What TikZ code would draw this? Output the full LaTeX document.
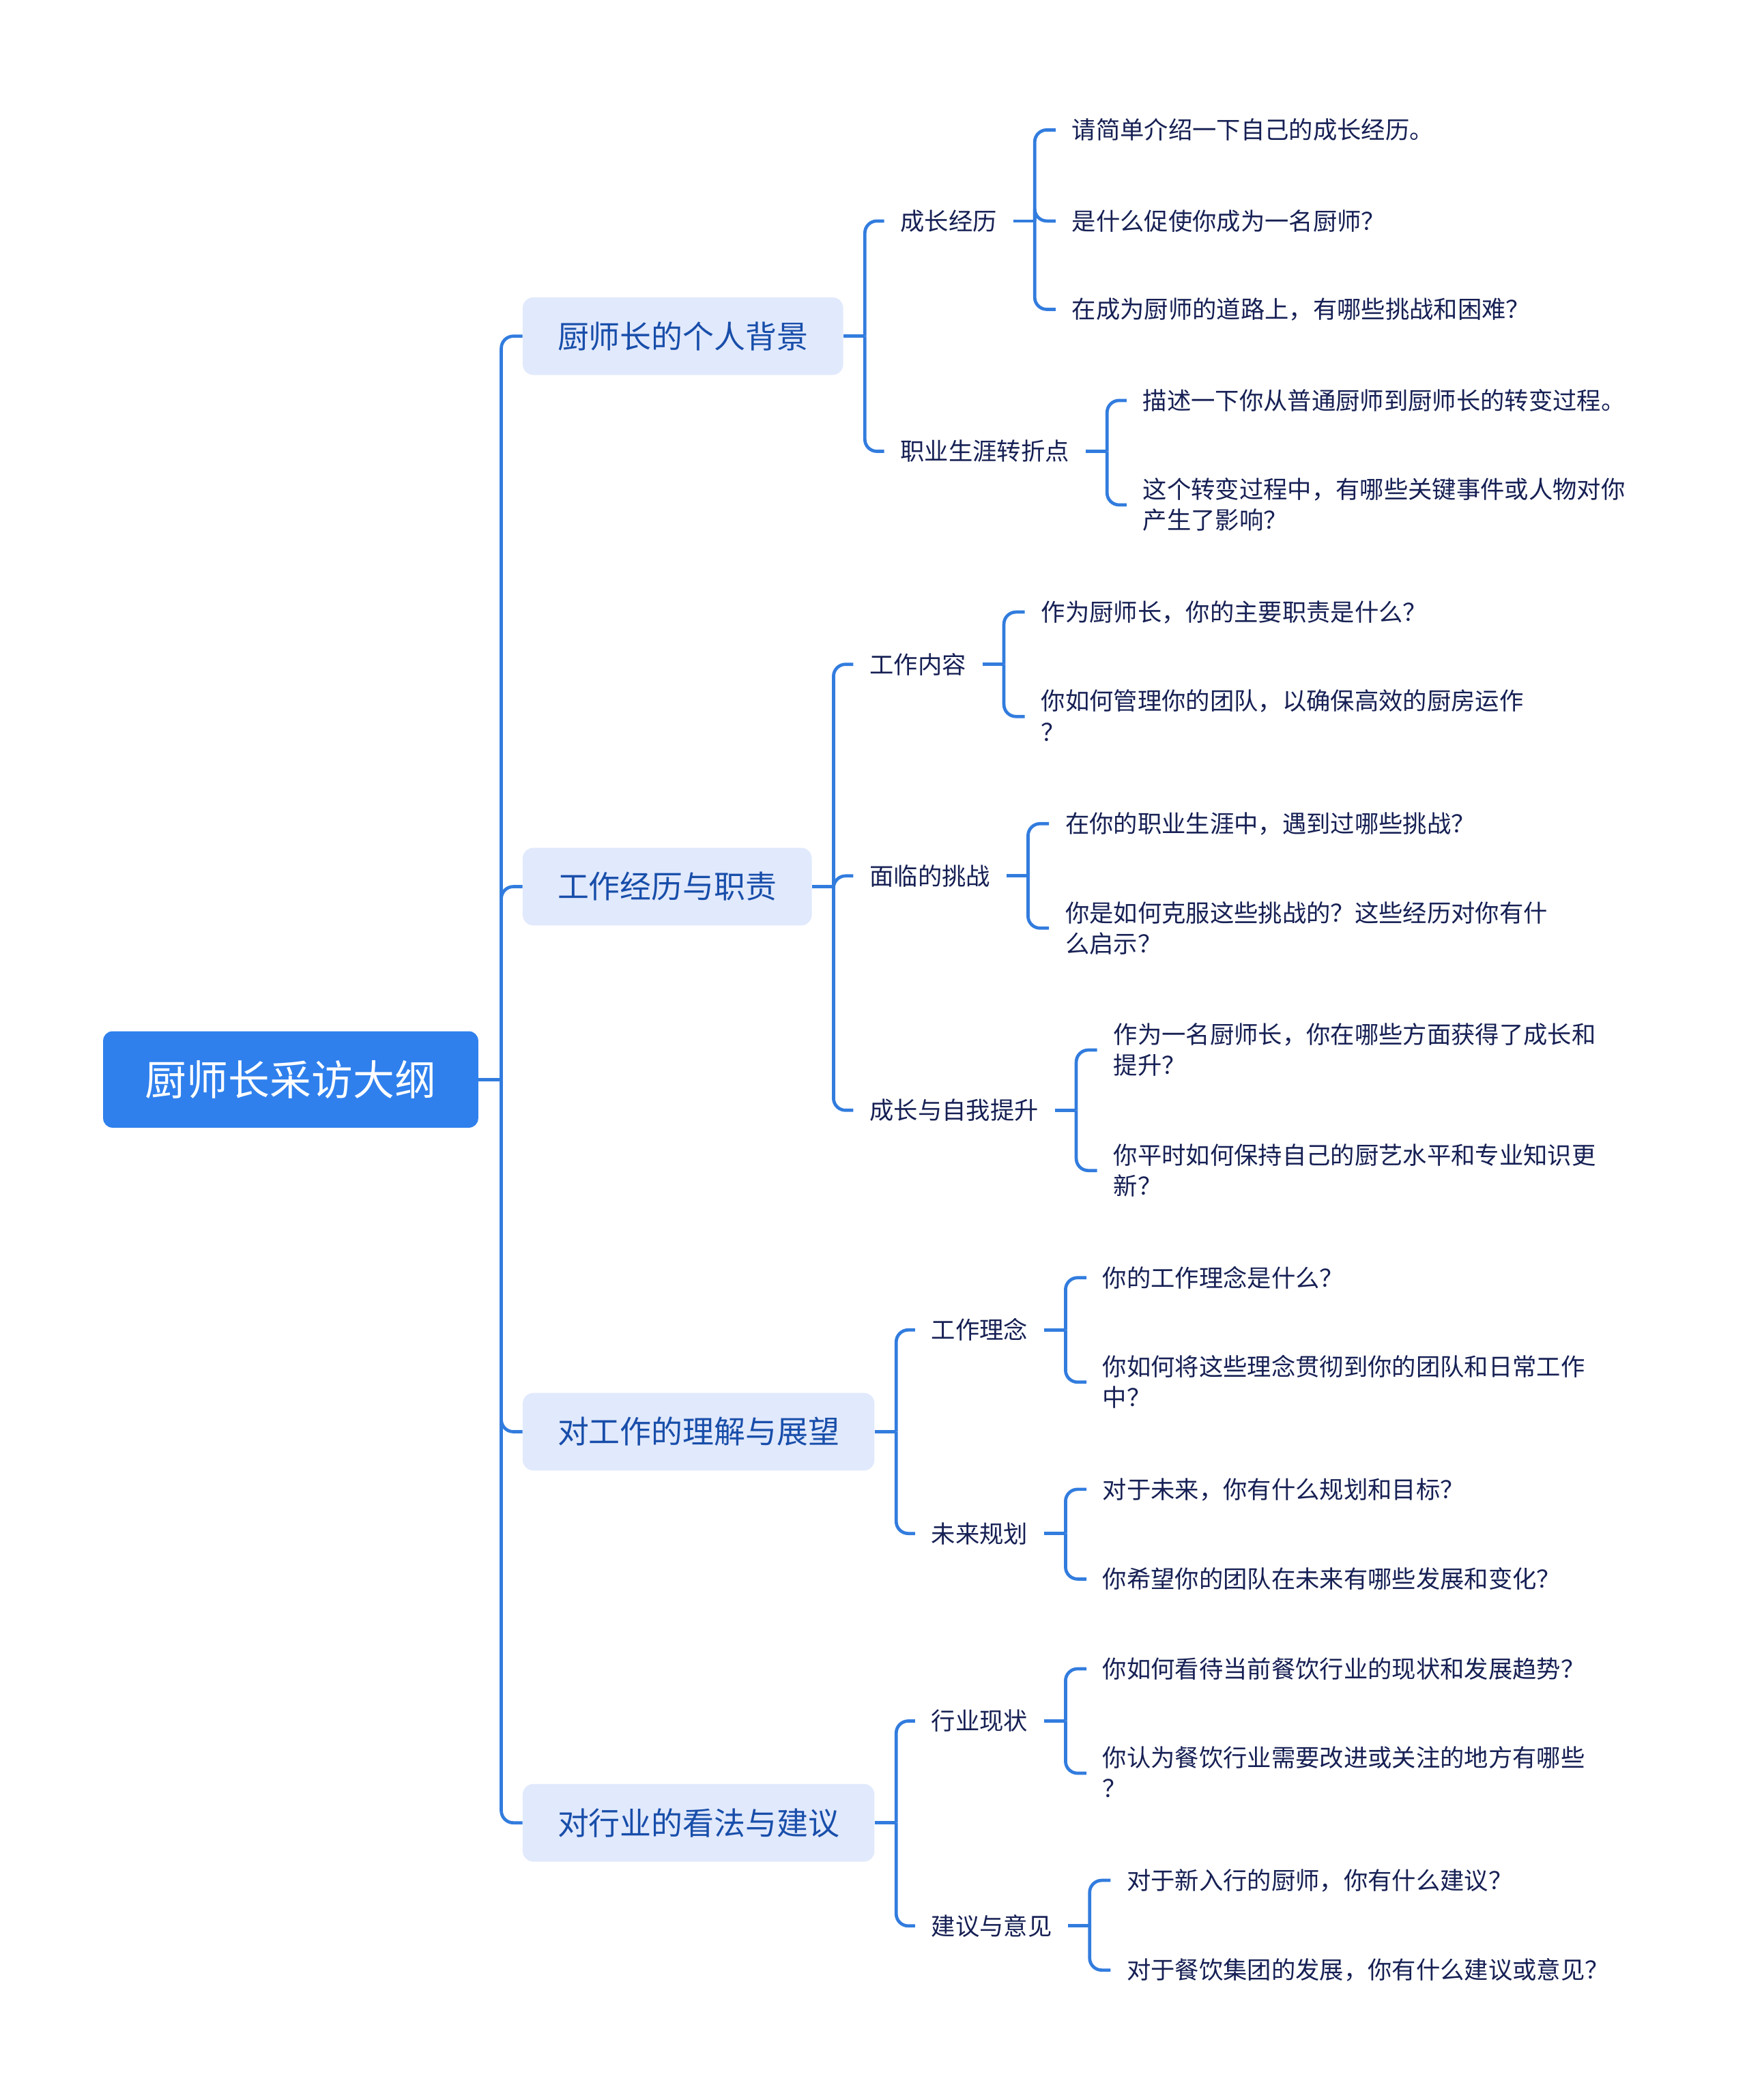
\documentclass[tikz,border=0pt]{standalone}
\usepackage{fontspec}
\setmainfont{Noto Sans CJK SC}
\usepackage{tikz}
\usepackage{xcolor}

\definecolor{rootblue}{RGB}{47,128,237}
\definecolor{topicfill}{RGB}{225,233,252}
\definecolor{topicink}{RGB}{24,78,170}
\definecolor{leafink}{RGB}{22,32,84}
\definecolor{lineblue}{RGB}{50,124,222}

\begin{document}
\begin{tikzpicture}[x=1pt, y=-1pt,
  link/.style={draw=lineblue, line width=2.4pt, rounded corners=9pt},
  rootbox/.style={fill=rootblue, rounded corners=7pt, text=white,
    minimum width=280pt, minimum height=72pt,
    font=\fontsize{31}{36}\selectfont, text height=27.3pt, text depth=3.7pt},
  topic/.style={anchor=west, fill=topicfill, rounded corners=8pt, text=topicink,
    inner xsep=26pt, minimum height=58pt,
    font=\fontsize{23.4}{28}\selectfont, text height=20.6pt, text depth=2.8pt},
  sub/.style={anchor=west, inner xsep=12pt, inner ysep=1pt, text=leafink, align=left,
    font=\fontsize{18}{23}\selectfont, text height=15.8pt, text depth=2.2pt},
  twolines/.style={sub, text height=38.8pt}]
  \useasboundingbox (0,0) rectangle (1304,1568);

  \node[rootbox] (root) at (217,806) {厨师长采访大纲};

  \node[topic] (b1) at (390,251) {厨师长的个人背景};
  \node[topic] (b2) at (390,662) {工作经历与职责};
  \node[topic] (b3) at (390,1069) {对工作的理解与展望};
  \node[topic] (b4) at (390,1361) {对行业的看法与建议};

  \node[sub] (c11) at (660,165) {成长经历};
  \node[sub] (c12) at (660,337) {职业生涯转折点};
  \node[sub] (c21) at (637,496) {工作内容};
  \node[sub] (c22) at (637,654) {面临的挑战};
  \node[sub] (c23) at (637,829) {成长与自我提升};
  \node[sub] (c31) at (683,993) {工作理念};
  \node[sub] (c32) at (683,1145) {未来规划};
  \node[sub] (c41) at (683,1285) {行业现状};
  \node[sub] (c42) at (683,1438) {建议与意见};

  \node[sub] (l111) at (788,97) {请简单介绍一下自己的成长经历。};
  \node[sub] (l112) at (788,165) {是什么促使你成为一名厨师？};
  \node[sub] (l113) at (788,231) {在成为厨师的道路上，有哪些挑战和困难？};
  \node[sub] (l121) at (841,299) {描述一下你从普通厨师到厨师长的转变过程。};
  \node[twolines] (l122) at (841,377) {这个转变过程中，有哪些关键事件或人物对你\\产生了影响？};
  \node[sub] (l211) at (765,457) {作为厨师长，你的主要职责是什么？};
  \node[twolines] (l212) at (765,535) {你如何管理你的团队，以确保高效的厨房运作\\？};
  \node[sub] (l221) at (783,615) {在你的职业生涯中，遇到过哪些挑战？};
  \node[twolines] (l222) at (783,693) {你是如何克服这些挑战的？这些经历对你有什\\么启示？};
  \node[twolines] (l231) at (819,784) {作为一名厨师长，你在哪些方面获得了成长和\\提升？};
  \node[twolines] (l232) at (819,874) {你平时如何保持自己的厨艺水平和专业知识更\\新？};
  \node[sub] (l311) at (811,954) {你的工作理念是什么？};
  \node[twolines] (l312) at (811,1032) {你如何将这些理念贯彻到你的团队和日常工作\\中？};
  \node[sub] (l321) at (811,1112) {对于未来，你有什么规划和目标？};
  \node[sub] (l322) at (811,1179) {你希望你的团队在未来有哪些发展和变化？};
  \node[sub] (l411) at (811,1246) {你如何看待当前餐饮行业的现状和发展趋势？};
  \node[twolines] (l412) at (811,1324) {你认为餐饮行业需要改进或关注的地方有哪些\\？};
  \node[sub] (l421) at (829,1404) {对于新入行的厨师，你有什么建议？};
  \node[sub] (l422) at (829,1471) {对于餐饮集团的发展，你有什么建议或意见？};

  \draw[link] (root.east) -- ++(17,0) coordinate (j0);
  \foreach \c in {b1,b2,b3,b4} \draw[link] (j0) |- (\c.west);

  \foreach \p/\kids in {b1/{c11,c12}, b2/{c21,c22,c23}, b3/{c31,c32}, b4/{c41,c42},
      c11/{l111,l112,l113}, c12/{l121,l122}, c21/{l211,l212}, c22/{l221,l222},
      c23/{l231,l232}, c31/{l311,l312}, c32/{l321,l322}, c41/{l411,l412},
      c42/{l421,l422}} {
    \draw[link] (\p.east) -- ++(16,0) coordinate (j-\p);
    \foreach \c in \kids \draw[link] (j-\p) |- (\c.west);
  }
\end{tikzpicture}
\end{document}
